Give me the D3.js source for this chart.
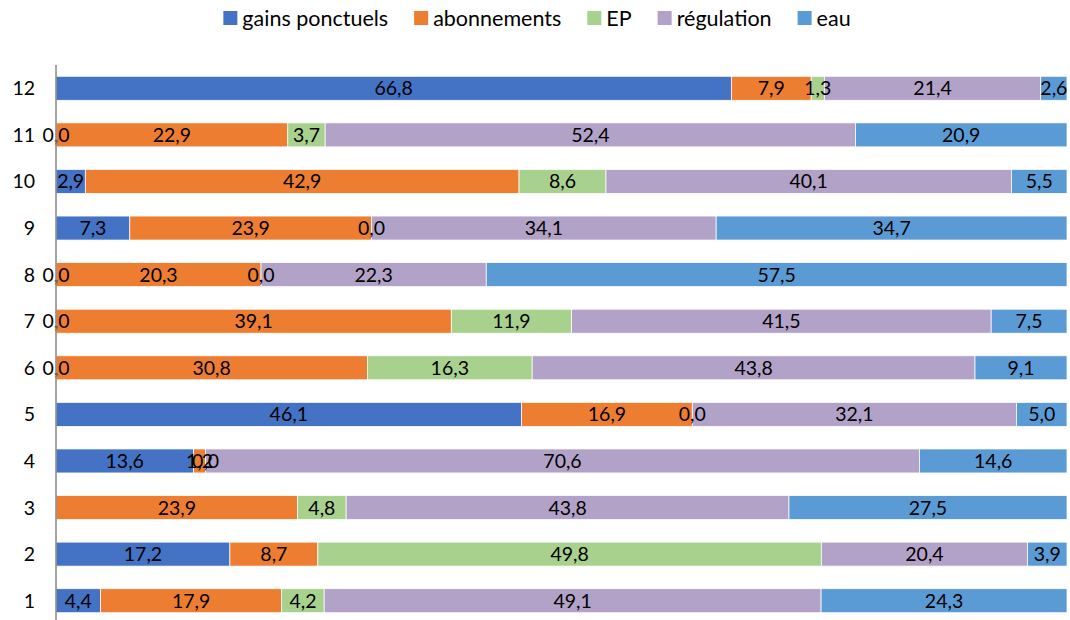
<!DOCTYPE html>
<html>
<head>
<meta charset="utf-8">
<script src="https://cdn.jsdelivr.net/npm/d3@7"></script>
<style>
  body { margin: 0; background: #fff; }
  text { font-family: Lato, "Open Sans", sans-serif; fill: #000; }
</style>
</head>
<body>
<div id="chart"></div>
<script>
// categories, bottom to top
var categories = ["1", "2", "3", "4", "5", "6", "7", "8", "9", "10", "11", "12"];
var seriesNames = ["gains ponctuels", "abonnements", "EP", "régulation", "eau"];
var seriesColors = ["#4472C4", "#ED7D31", "#A9D18E", "#B3A2C7", "#5B9BD5"];

// values per series, in the order of categories (null = no value)
var gains = [4.4, 17.2, null, 13.6, 46.1, 0.0, 0.0, 0.0, 7.3, 2.9, 0.0, 66.8];
var abonnements = [17.9, 8.7, 23.9, 1.2, 16.9, 30.8, 39.1, 20.3, 23.9, 42.9, 22.9, 7.9];
var ep = [4.2, 49.8, 4.8, 0.0, 0.0, 16.3, 11.9, 0.0, 0.0, 8.6, 3.7, 1.3];
var regulation = [49.1, 20.4, 43.8, 70.6, 32.1, 43.8, 41.5, 22.3, 34.1, 40.1, 52.4, 21.4];
var eau = [24.3, 3.9, 27.5, 14.6, 5.0, 9.1, 7.5, 57.5, 34.7, 5.5, 20.9, 2.6];

var seriesValues = [gains, abonnements, ep, regulation, eau];

var svgWidth = 1070;
var svgHeight = 620;

var margin = { top: 65, right: 3, bottom: -4, left: 56 };
var width = svgWidth - margin.left - margin.right;
var height = svgHeight - margin.top - margin.bottom;

var svg = d3.select("#chart")
  .append("svg")
  .attr("width", svgWidth)
  .attr("height", svgHeight);

var chartGroup = svg.append("g")
  .attr("transform", `translate(${margin.left}, ${margin.top})`);

var rows = categories.map(function(c, i) {
  var r = { cat: c };
  seriesNames.forEach(function(s, j) { r[s] = seriesValues[j][i] == null ? 0 : seriesValues[j][i]; });
  return r;
});

var stack = d3.stack().keys(seriesNames).offset(d3.stackOffsetExpand);
var layers = stack(rows);

var x = d3.scaleLinear().domain([0, 1]).range([0, width]);
var y = d3.scaleBand()
  .domain(categories.slice().reverse())
  .range([0, height])
  .paddingInner(0.485)
  .paddingOuter(0.2425);

var fmt = function(v) { return d3.format(".1f")(v).replace(".", ","); };

chartGroup.selectAll(".layer")
  .data(layers)
  .enter()
  .append("g")
  .attr("class", "layer")
  .attr("fill", (d, i) => seriesColors[i])
  .selectAll("rect")
  .data(d => d)
  .enter()
  .append("rect")
  .attr("x", d => x(d[0]))
  .attr("y", d => y(d.data.cat))
  .attr("width", d => Math.max(0, x(d[1]) - x(d[0])))
  .attr("height", y.bandwidth())
  .attr("stroke", "#fff")
  .attr("stroke-width", 0.75);

// data labels drawn on top of all bars
var labels = [];
layers.forEach(function(layer, li) {
  layer.forEach(function(d, i) {
    if (seriesValues[li][i] != null) labels.push({ d: d, v: seriesValues[li][i] });
  });
});

chartGroup.append("g")
  .selectAll("text")
  .data(labels)
  .enter()
  .append("text")
  .attr("x", o => (x(o.d[0]) + x(o.d[1])) / 2)
  .attr("y", o => y(o.d.data.cat) + y.bandwidth() / 2)
  .attr("dy", "0.36em")
  .attr("text-anchor", "middle")
  .attr("font-size", "19.5px")
  .text(o => fmt(o.v));

// vertical axis line + category labels
chartGroup.append("line")
  .attr("x1", 0).attr("x2", 0)
  .attr("y1", 0).attr("y2", height)
  .attr("stroke", "#868686")
  .attr("stroke-width", 1.5);

chartGroup.selectAll(".cat")
  .data(categories)
  .enter()
  .append("text")
  .attr("x", -21)
  .attr("y", d => y(d) + y.bandwidth() / 2)
  .attr("dy", "0.36em")
  .attr("text-anchor", "end")
  .attr("font-size", "19.5px")
  .text(d => d);

// legend
var legend = svg.append("g");
var lx = 0;
seriesNames.forEach(function(s, i) {
  var g = legend.append("g").attr("transform", `translate(${lx}, 0)`);
  g.append("rect").attr("x", 0).attr("y", 11).attr("width", 14).attr("height", 14).attr("fill", seriesColors[i]);
  var t = g.append("text").attr("x", 19).attr("y", 18).attr("dy", "0.36em").attr("font-size", "21.5px").text(s);
  lx += 19 + t.node().getComputedTextLength() + 26;
});
lx -= 26;
legend.attr("transform", `translate(${537 - lx / 2}, 0)`);
</script>
</body>
</html>
